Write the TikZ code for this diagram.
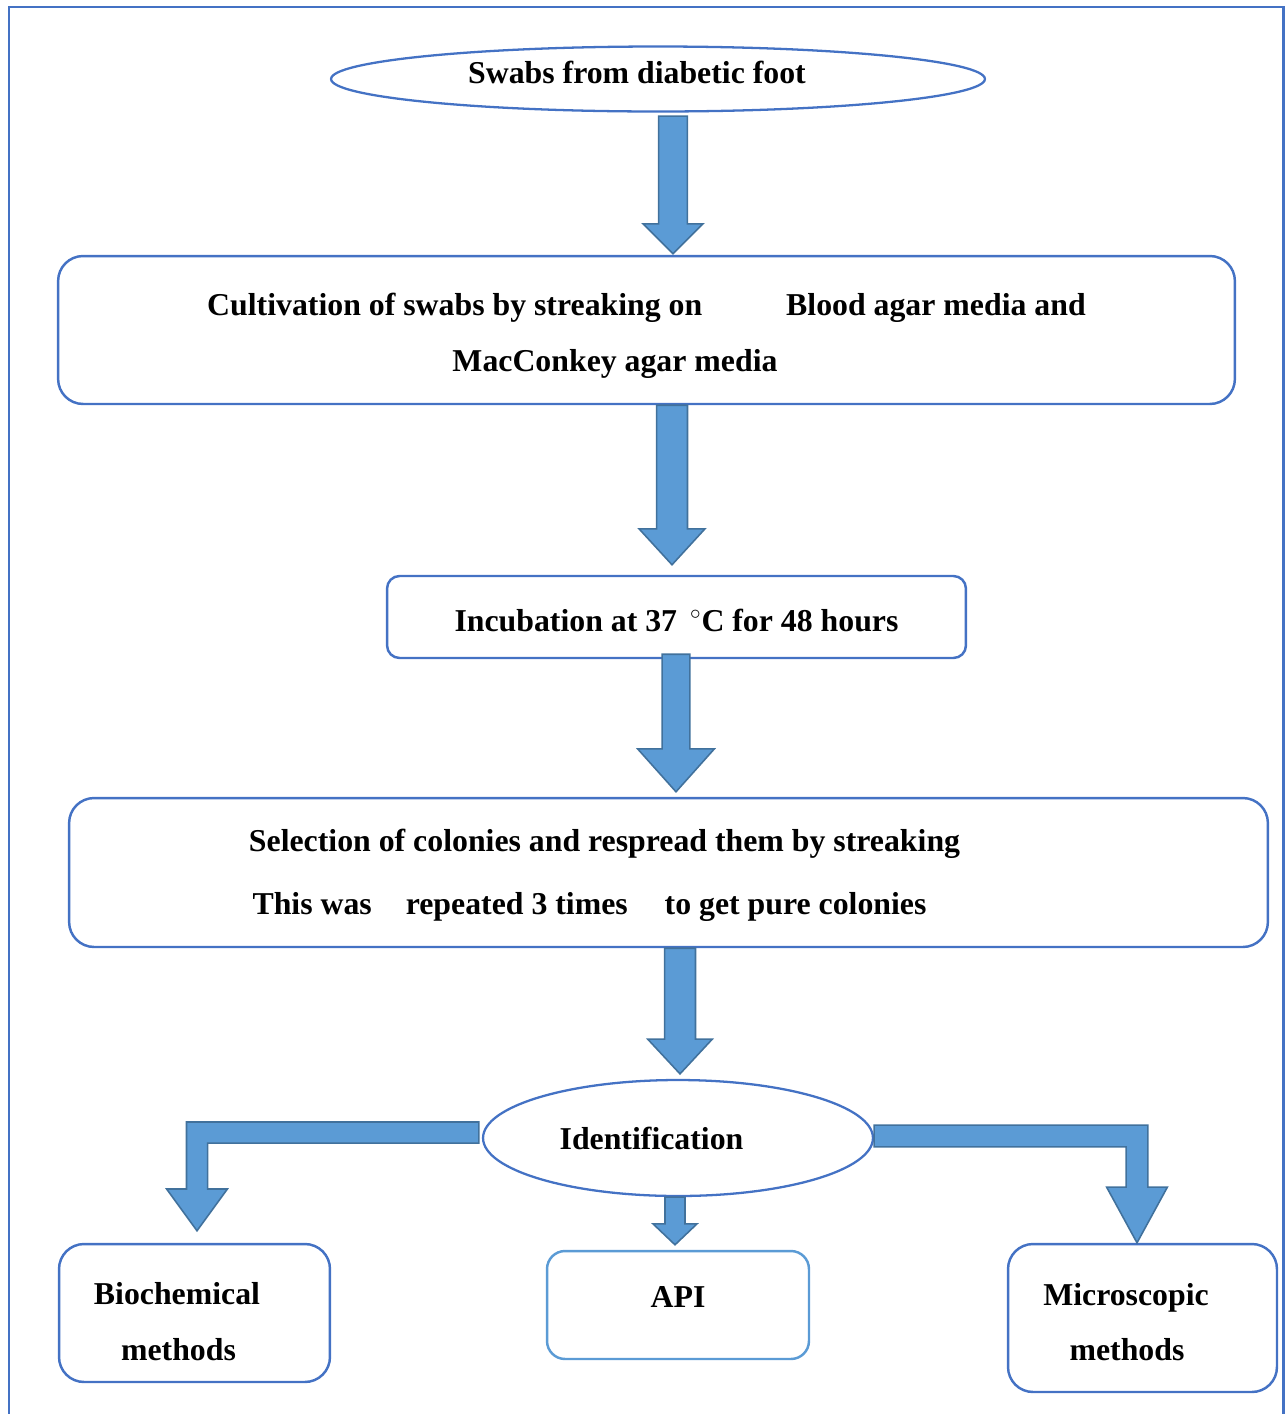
\documentclass[tikz,border=0pt]{standalone}
\usepackage{fontspec}
\setmainfont{Liberation Serif}
\usepackage{xcolor}
\usetikzlibrary{calc,shapes.geometric}

\definecolor{lineblue}{HTML}{4472C4}
\definecolor{lightblue}{HTML}{5B9BD5}
\definecolor{arrowedge}{HTML}{41719C}

\newcommand{\blockdown}[5]{%
	\filldraw[blockarrow] let \p1=#1, \p2=#2 in
		(\x1-#3,\y1) -- (\x1+#3,\y1) -- (\x1+#3,\y2+#5) -- (\x1+#4,\y2+#5)
		-- (\x1,\y2) -- (\x1-#4,\y2+#5) -- (\x1-#3,\y2+#5) -- cycle;
}
\newcommand{\nudge}[2]{\raisebox{#1}[\height][\depth]{#2}}

\begin{document}
\begin{tikzpicture}[x=0.02cm,y=-0.02cm,
		font=\fontsize{18.1}{31.7}\selectfont\bfseries,
		frame/.style={draw=lineblue,line width=1.7pt},
		box/.style={draw=lineblue,line width=1.4pt,rounded corners=0.5cm,align=center,inner sep=0pt},
		oval/.style={draw=lineblue,line width=1.3pt,ellipse,inner sep=0pt},
		blockarrow/.style={fill=lightblue,draw=arrowedge,line width=0.9pt}]
			\useasboundingbox (0,0) rectangle (1286,1414);
			\draw[frame] (9,1414) |- (1283,7) -- (1283,1414);

			\node[oval,minimum width=13.08cm,minimum height=1.3cm] (swabs) at (658,79)
				{\nudge{0.14cm}{Swabs from diabetic foot}\hspace*{0.84cm}};
			\node[box,minimum width=23.54cm,minimum height=2.96cm] (cult) at (646.5,330)
				{\nudge{-0.12cm}{Cultivation of swabs by streaking on\hspace{1.52cm} Blood agar media and}\\
				\nudge{-0.12cm}{MacConkey agar media}\hspace*{1.26cm}};
			\node[box,rounded corners=0.25cm,minimum width=11.58cm,minimum height=1.64cm] (incub) at (676.5,617)
				{\nudge{-0.06cm}{Incubation at 37\hspace{0.1cm} $^{\circ}$C for 48 hours}};
			\node[box,minimum width=23.98cm,minimum height=2.98cm] (select) at (668.5,872.5)
				{\nudge{-0.06cm}{Selection of colonies and respread them by streaking}\hspace*{2.56cm}\\[4pt]
				\nudge{-0.06cm}{This was\hspace{0.52cm} repeated 3 times\hspace{0.58cm} to get pure colonies}\hspace*{3.16cm}};
			\node[oval,minimum width=7.8cm,minimum height=2.32cm] (ident) at (678,1138)
				{Identification\hspace*{1.06cm}};
			\node[box,minimum width=5.42cm,minimum height=2.76cm] (biochem) at (194.5,1313)
				{\nudge{-0.17cm}{Biochemical}\hspace*{0.7cm}\\\nudge{-0.17cm}{methods}\hspace*{0.64cm}};
			\node[box,draw=lightblue,rounded corners=0.36cm,minimum width=5.24cm,minimum height=2.16cm] (api) at (678,1305)
				{\nudge{0.16cm}{API}};
			\node[box,minimum width=5.38cm,minimum height=2.96cm] (micro) at (1142.5,1318)
				{\nudge{-0.08cm}{Microscopic}\hspace*{0.66cm}\\\nudge{-0.08cm}{methods}\hspace*{0.62cm}};

			\blockdown{($(swabs.south)+(15,3.5)$)}{($(cult.north)+(0,-1)$)}{8.2pt}{17pt}{17pt}
			\blockdown{($(cult.south)+(25.5,0)$)}{($(incub.north)+(0,-10)$)}{8.8pt}{18.7pt}{20.4pt}
			\blockdown{($(incub.south)+(-0.5,-5)$)}{($(select.north)+(0,-5)$)}{7.9pt}{21.8pt}{24.4pt}
			\blockdown{($(select.south)+(11.5,0)$)}{($(ident.north)+(0,-5)$)}{8.8pt}{18.4pt}{19.8pt}
			\blockdown{($(ident.south)+(-3,0)$)}{($(api.north)+(0,-5)$)}{5.7pt}{12.5pt}{11.9pt}

			\filldraw[blockarrow] let \p1=($(ident.west)+(-3,-5.5)$), \p2=($(biochem.north)+(2.5,-12)$) in
				(\x1,\y1+6pt) -- (\x2-6pt,\y1+6pt) -- (\x2-6pt,\y2+23.8pt) -- (\x2-17.3pt,\y2+23.8pt)
				-- (\x2,\y2) -- (\x2+17.3pt,\y2+23.8pt) -- (\x2+6pt,\y2+23.8pt) -- (\x2+6pt,\y1-6pt)
				-- (\x1,\y1-6pt) -- cycle;
			\filldraw[blockarrow] let \p1=($(ident.east)+(0,-2)$), \p2=($(micro.north)+(-5.5,0)$) in
				(\x1,\y1+6.2pt) -- (\x2+6.2pt,\y1+6.2pt) -- (\x2+6.2pt,\y2+31.7pt) -- (\x2+17.3pt,\y2+31.7pt)
				-- (\x2,\y2) -- (\x2-17.3pt,\y2+31.7pt) -- (\x2-6.2pt,\y2+31.7pt) -- (\x2-6.2pt,\y1-6.2pt)
				-- (\x1,\y1-6.2pt) -- cycle;
		\end{tikzpicture}
\end{document}
